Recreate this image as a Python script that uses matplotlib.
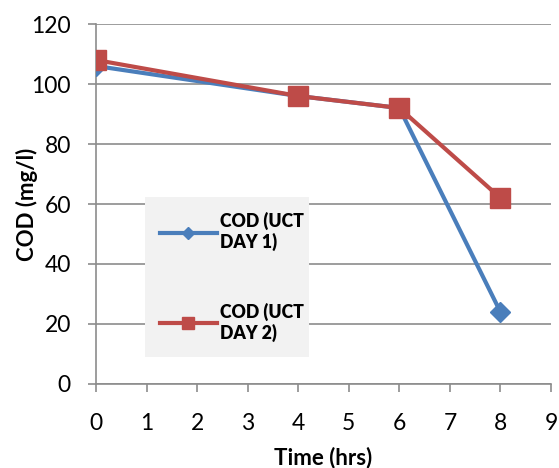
import matplotlib
matplotlib.use("Agg")
import matplotlib.pyplot as plt
from matplotlib.lines import Line2D

plt.rcParams['font.family'] = ['Lato', 'DejaVu Sans']

time_hrs = [0, 4, 6, 8]
cod_day1 = [106, 96, 92, 24]
cod_day2 = [108, 96, 92, 62]
series_labels = ["COD (UCT\nDAY 1)", "COD (UCT\nDAY 2)"]
x_ticks = list(range(0, 10))
y_ticks = list(range(0, 121, 20))

blue = "#4A7EBB"
red = "#BE4B48"
grid_c = "#8C8C8C"

fig = plt.figure(figsize=(5.59, 4.68), dpi=100)
ax = fig.add_axes([0.1717, 0.1795, 0.814, 0.7692])

ax.plot(time_hrs, cod_day1, color=blue, lw=3, marker='D', ms=10, zorder=3)
ax.plot(time_hrs, cod_day2, color=red, lw=3, marker='s', ms=14.5, zorder=4)

ax.set_xlim(0, 9)
ax.set_ylim(0, 120)
ax.set_xticks(x_ticks)
ax.set_yticks(y_ticks)
ax.grid(axis='y', color=grid_c, lw=1.2)
ax.set_axisbelow(True)
for s in ['top', 'right']:
    ax.spines[s].set_visible(False)
ax.spines['left'].set_color(grid_c)
ax.spines['bottom'].set_color(grid_c)
ax.spines['left'].set_linewidth(1.2)
ax.spines['bottom'].set_linewidth(1.2)
ax.tick_params(axis='both', colors=grid_c, labelcolor='black', labelsize=16.5,
               length=6, width=1.2, direction='out')
ax.tick_params(axis='x', pad=15)
ax.tick_params(axis='y', pad=12)

ax.set_xlabel("Time (hrs)", fontsize=16, fontweight='bold', labelpad=9)
ax.set_ylabel("COD (mg/l)", fontsize=16, fontweight='bold', labelpad=-5)

handles = [
    Line2D([], [], color=blue, lw=3, marker='D', ms=6),
    Line2D([], [], color=red, lw=3, marker='s', ms=9),
]
leg = ax.legend(handles, series_labels, loc='lower left',
                bbox_to_anchor=(0.108, 0.075, 0.36, 0.442), mode='expand',
                frameon=True, fancybox=False, facecolor='#F2F2F2',
                edgecolor='none', framealpha=1, borderaxespad=0,
                prop={'size': 12.7, 'weight': 'heavy'}, handlelength=3.2,
                handletextpad=0.2, labelspacing=2.9, borderpad=0.85)
leg.get_frame().set_linewidth(0)

fig.savefig("out.png", dpi=100)
